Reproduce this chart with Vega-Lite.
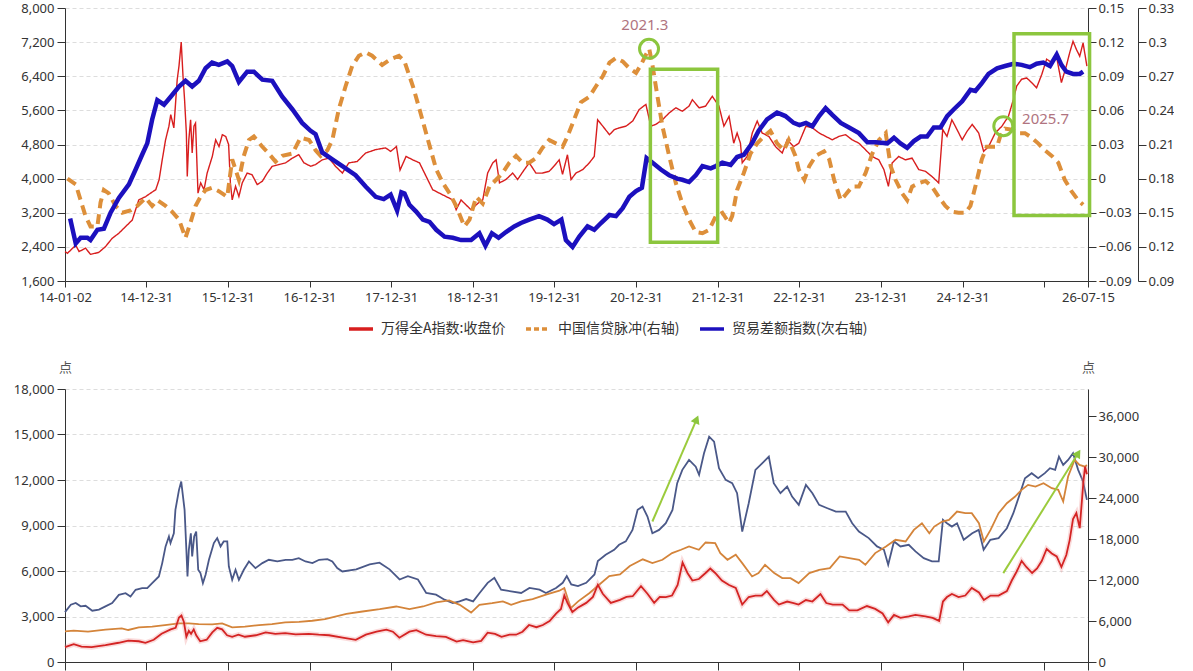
{
  "$schema": "https://vega.github.io/schema/vega-lite/v6.json",
  "background": "white",
  "padding": {"left": 13, "top": 2, "right": 0, "bottom": 0},
  "spacing": 57,
  "config": {
    "view": {"stroke": null},
    "font": "Noto Sans CJK SC",
    "axis": {
      "labelFont": "Noto Sans",
      "labelFontSize": 13,
      "labelColor": "#333333",
      "domainColor": "#333333",
      "tickColor": "#333333",
      "titleFont": "Noto Sans CJK SC",
      "titleFontSize": 13,
      "titleFontWeight": "normal",
      "titleColor": "#555555",
      "gridColor": "#dddddd",
      "gridDash": [4, 3]
    }
  },
  "datasets": {
    "tr": [
      {"d":"2014-01-02","v":2288},{"d":"2014-01-13","v":2250},{"d":"2014-02-19","v":2440},{"d":"2014-03-06","v":2290},{"d":"2014-04-04","v":2370},{"d":"2014-04-26","v":2225},{"d":"2014-06-02","v":2270},{"d":"2014-07-02","v":2405},{"d":"2014-08-01","v":2600},{"d":"2014-08-31","v":2720},{"d":"2014-09-30","v":2875},{"d":"2014-10-30","v":3030},{"d":"2014-11-28","v":3500},{"d":"2014-12-29","v":3580},
      {"d":"2015-01-20","v":3660},{"d":"2015-02-12","v":3740},{"d":"2015-02-27","v":3975},{"d":"2015-03-13","v":4440},{"d":"2015-03-28","v":4910},{"d":"2015-04-12","v":5230},{"d":"2015-04-20","v":5500},{"d":"2015-05-04","v":5190},{"d":"2015-05-19","v":6320},{"d":"2015-05-27","v":6640},{"d":"2015-06-06","v":7200},{"d":"2015-06-14","v":6400},{"d":"2015-06-21","v":5850},{"d":"2015-06-29","v":5070},{"d":"2015-07-03","v":4050},{"d":"2015-07-10","v":4910},{"d":"2015-07-18","v":5380},{"d":"2015-07-25","v":4600},{"d":"2015-08-02","v":5230},{"d":"2015-08-09","v":5300},{"d":"2015-08-20","v":3660},{"d":"2015-09-01","v":3900},{"d":"2015-09-16","v":3740},{"d":"2015-09-30","v":4130},{"d":"2015-10-23","v":4520},{"d":"2015-11-07","v":4910},{"d":"2015-11-22","v":4750},{"d":"2015-12-07","v":5030},{"d":"2015-12-22","v":4990},
      {"d":"2016-01-04","v":4800},{"d":"2016-01-12","v":3900},{"d":"2016-01-20","v":3500},{"d":"2016-02-04","v":3820},{"d":"2016-02-19","v":3580},{"d":"2016-03-05","v":3900},{"d":"2016-03-27","v":4130},{"d":"2016-04-18","v":4090},{"d":"2016-05-11","v":3860},{"d":"2016-06-03","v":3940},{"d":"2016-06-25","v":4130},{"d":"2016-07-17","v":4290},{"d":"2016-08-16","v":4330},{"d":"2016-09-15","v":4370},{"d":"2016-10-15","v":4480},{"d":"2016-11-13","v":4560},{"d":"2016-12-06","v":4370},
      {"d":"2017-01-05","v":4290},{"d":"2017-01-27","v":4330},{"d":"2017-02-26","v":4440},{"d":"2017-03-28","v":4480},{"d":"2017-04-26","v":4290},{"d":"2017-05-27","v":4130},{"d":"2017-06-25","v":4370},{"d":"2017-08-01","v":4400},{"d":"2017-09-08","v":4600},{"d":"2017-10-23","v":4680},{"d":"2017-12-06","v":4720},{"d":"2017-12-29","v":4640},
      {"d":"2018-01-24","v":4750},{"d":"2018-02-09","v":4200},{"d":"2018-03-08","v":4520},{"d":"2018-04-07","v":4440},{"d":"2018-05-07","v":4370},{"d":"2018-06-06","v":4050},{"d":"2018-07-05","v":3740},{"d":"2018-08-04","v":3660},{"d":"2018-09-03","v":3580},{"d":"2018-10-03","v":3500},{"d":"2018-10-18","v":3270},{"d":"2018-11-09","v":3500},{"d":"2018-12-02","v":3380},{"d":"2018-12-24","v":3270},
      {"d":"2019-01-23","v":3420},{"d":"2019-02-14","v":3500},{"d":"2019-03-08","v":4130},{"d":"2019-03-31","v":4370},{"d":"2019-04-15","v":4440},{"d":"2019-04-30","v":3900},{"d":"2019-05-29","v":3980},{"d":"2019-06-28","v":4130},{"d":"2019-07-20","v":3980},{"d":"2019-08-19","v":4210},{"d":"2019-09-10","v":4370},{"d":"2019-10-10","v":4130},{"d":"2019-11-08","v":4130},{"d":"2019-12-08","v":4170},{"d":"2019-12-31","v":4300},
      {"d":"2020-01-22","v":4440},{"d":"2020-02-06","v":4100},{"d":"2020-02-28","v":4560},{"d":"2020-03-15","v":3980},{"d":"2020-04-06","v":4130},{"d":"2020-05-06","v":4210},{"d":"2020-06-05","v":4370},{"d":"2020-06-27","v":4520},{"d":"2020-07-12","v":5380},{"d":"2020-08-04","v":5230},{"d":"2020-09-03","v":5030},{"d":"2020-09-25","v":5150},{"d":"2020-10-17","v":5190},{"d":"2020-11-16","v":5230},{"d":"2020-12-16","v":5350},
      {"d":"2021-01-14","v":5620},{"d":"2021-02-13","v":5740},{"d":"2021-03-07","v":5230},{"d":"2021-03-29","v":5270},{"d":"2021-04-28","v":5380},{"d":"2021-05-28","v":5540},{"d":"2021-06-27","v":5660},{"d":"2021-07-26","v":5580},{"d":"2021-08-25","v":5700},{"d":"2021-09-09","v":5850},{"d":"2021-10-09","v":5660},{"d":"2021-11-07","v":5700},{"d":"2021-12-07","v":5930},
      {"d":"2022-01-06","v":5700},{"d":"2022-01-28","v":5230},{"d":"2022-02-20","v":5460},{"d":"2022-03-13","v":4830},{"d":"2022-03-28","v":5070},{"d":"2022-04-12","v":4830},{"d":"2022-04-20","v":4370},{"d":"2022-05-12","v":4520},{"d":"2022-06-04","v":5070},{"d":"2022-06-26","v":5350},{"d":"2022-07-18","v":5070},{"d":"2022-08-17","v":4990},{"d":"2022-09-16","v":4750},{"d":"2022-10-16","v":4600},{"d":"2022-11-07","v":4910},{"d":"2022-12-06","v":4750},{"d":"2022-12-29","v":4830},
      {"d":"2023-01-30","v":5230},{"d":"2023-02-28","v":5190},{"d":"2023-03-30","v":5070},{"d":"2023-04-28","v":4990},{"d":"2023-05-28","v":4910},{"d":"2023-06-27","v":4990},{"d":"2023-07-26","v":5030},{"d":"2023-08-25","v":4910},{"d":"2023-09-24","v":4830},{"d":"2023-10-23","v":4680},{"d":"2023-11-22","v":4520},{"d":"2023-12-22","v":4440},
      {"d":"2024-01-14","v":4210},{"d":"2024-02-03","v":3820},{"d":"2024-02-20","v":4370},{"d":"2024-03-20","v":4520},{"d":"2024-04-19","v":4440},{"d":"2024-05-19","v":4480},{"d":"2024-06-18","v":4210},{"d":"2024-07-18","v":4170},{"d":"2024-08-16","v":4050},{"d":"2024-09-15","v":3900},{"d":"2024-10-03","v":5150},{"d":"2024-10-22","v":4990},{"d":"2024-11-13","v":5380},{"d":"2024-12-06","v":5150},{"d":"2024-12-29","v":4910},
      {"d":"2025-01-20","v":5110},{"d":"2025-02-12","v":5270},{"d":"2025-03-13","v":5070},{"d":"2025-04-04","v":4640},{"d":"2025-04-26","v":4750},{"d":"2025-05-26","v":5070},{"d":"2025-06-25","v":5230},{"d":"2025-07-24","v":5460},{"d":"2025-08-15","v":5850},{"d":"2025-08-30","v":6170},{"d":"2025-09-21","v":6330},{"d":"2025-10-14","v":6360},{"d":"2025-11-05","v":6250},{"d":"2025-11-27","v":6130},{"d":"2025-12-20","v":6440},
      {"d":"2026-01-11","v":6800},{"d":"2026-02-03","v":6720},{"d":"2026-02-25","v":6840},{"d":"2026-03-18","v":6250},{"d":"2026-04-09","v":6640},{"d":"2026-04-24","v":6950},{"d":"2026-05-09","v":7220},{"d":"2026-05-24","v":7030},{"d":"2026-06-08","v":6870},{"d":"2026-06-23","v":7180},{"d":"2026-07-10","v":6640}
    ],
    "to": [
      {"d":"2014-01-13","v":0.0},{"d":"2014-02-19","v":-0.005},{"d":"2014-03-13","v":-0.019},{"d":"2014-04-04","v":-0.033},{"d":"2014-04-26","v":-0.042},{"d":"2014-05-27","v":-0.042},{"d":"2014-06-10","v":-0.021},{"d":"2014-06-25","v":-0.010},{"d":"2014-07-17","v":-0.013},{"d":"2014-08-16","v":-0.024},{"d":"2014-09-15","v":-0.030},{"d":"2014-10-22","v":-0.028},{"d":"2014-11-21","v":-0.024},{"d":"2014-12-29","v":-0.017},
      {"d":"2015-01-27","v":-0.024},{"d":"2015-02-19","v":-0.019},{"d":"2015-03-28","v":-0.024},{"d":"2015-04-26","v":-0.029},{"d":"2015-05-27","v":-0.036},{"d":"2015-06-25","v":-0.052},{"d":"2015-07-17","v":-0.039},{"d":"2015-08-09","v":-0.024},{"d":"2015-08-31","v":-0.016},{"d":"2015-09-23","v":-0.010},{"d":"2015-10-22","v":-0.008},{"d":"2015-11-21","v":-0.011},{"d":"2015-12-29","v":-0.016},
      {"d":"2016-01-20","v":0.017},{"d":"2016-02-19","v":-0.001},{"d":"2016-03-12","v":0.020},{"d":"2016-04-04","v":0.034},{"d":"2016-04-26","v":0.037},{"d":"2016-06-03","v":0.028},{"d":"2016-07-02","v":0.022},{"d":"2016-08-01","v":0.015},{"d":"2016-08-31","v":0.020},{"d":"2016-10-15","v":0.022},{"d":"2016-11-21","v":0.036},{"d":"2016-12-29","v":0.034},
      {"d":"2017-01-27","v":0.025},{"d":"2017-02-19","v":0.020},{"d":"2017-03-21","v":0.025},{"d":"2017-04-12","v":0.034},{"d":"2017-05-11","v":0.061},{"d":"2017-06-10","v":0.081},{"d":"2017-07-10","v":0.099},{"d":"2017-08-09","v":0.108},{"d":"2017-09-08","v":0.111},{"d":"2017-10-07","v":0.108},{"d":"2017-11-21","v":0.100},{"d":"2017-12-29","v":0.105},
      {"d":"2018-02-04","v":0.108},{"d":"2018-03-01","v":0.103},{"d":"2018-04-08","v":0.081},{"d":"2018-05-07","v":0.061},{"d":"2018-06-14","v":0.034},{"d":"2018-07-21","v":0.008},{"d":"2018-08-20","v":-0.004},{"d":"2018-09-19","v":-0.013},{"d":"2018-10-18","v":-0.024},{"d":"2018-11-24","v":-0.042},{"d":"2018-12-17","v":-0.036},
      {"d":"2019-01-16","v":-0.016},{"d":"2019-02-14","v":-0.022},{"d":"2019-03-16","v":-0.007},{"d":"2019-04-15","v":-0.001},{"d":"2019-05-14","v":0.005},{"d":"2019-06-13","v":0.014},{"d":"2019-07-13","v":0.020},{"d":"2019-08-11","v":0.014},{"d":"2019-09-10","v":0.014},{"d":"2019-10-10","v":0.018},{"d":"2019-11-08","v":0.027},{"d":"2019-12-08","v":0.034},
      {"d":"2020-01-07","v":0.031},{"d":"2020-02-06","v":0.028},{"d":"2020-02-28","v":0.037},{"d":"2020-03-29","v":0.052},{"d":"2020-04-28","v":0.067},{"d":"2020-06-05","v":0.072},{"d":"2020-07-04","v":0.081},{"d":"2020-08-04","v":0.090},{"d":"2020-09-03","v":0.102},{"d":"2020-10-02","v":0.106},{"d":"2020-11-01","v":0.103},{"d":"2020-12-01","v":0.097},{"d":"2020-12-31","v":0.093},
      {"d":"2021-01-22","v":0.100},{"d":"2021-02-13","v":0.109},{"d":"2021-02-28","v":0.114},{"d":"2021-03-15","v":0.099},{"d":"2021-04-06","v":0.072},{"d":"2021-04-28","v":0.046},{"d":"2021-05-28","v":0.020},{"d":"2021-06-27","v":-0.004},{"d":"2021-07-26","v":-0.022},{"d":"2021-08-25","v":-0.036},{"d":"2021-09-24","v":-0.047},{"d":"2021-10-24","v":-0.048},{"d":"2021-11-23","v":-0.045},{"d":"2021-12-23","v":-0.033},
      {"d":"2022-01-21","v":-0.030},{"d":"2022-02-20","v":-0.039},{"d":"2022-03-06","v":-0.033},{"d":"2022-03-28","v":-0.010},{"d":"2022-04-27","v":0.005},{"d":"2022-05-27","v":0.022},{"d":"2022-06-26","v":0.031},{"d":"2022-07-25","v":0.037},{"d":"2022-08-24","v":0.042},{"d":"2022-09-23","v":0.031},{"d":"2022-10-23","v":0.025},{"d":"2022-11-14","v":0.034},{"d":"2022-12-14","v":0.020},{"d":"2022-12-29","v":0.008},
      {"d":"2023-01-23","v":-0.001},{"d":"2023-02-14","v":0.011},{"d":"2023-03-15","v":0.020},{"d":"2023-04-21","v":0.024},{"d":"2023-05-14","v":0.017},{"d":"2023-06-05","v":-0.001},{"d":"2023-07-05","v":-0.019},{"d":"2023-07-27","v":-0.014},{"d":"2023-08-25","v":-0.007},{"d":"2023-09-24","v":-0.007},{"d":"2023-10-24","v":0.005},{"d":"2023-11-23","v":0.022},{"d":"2023-12-23","v":0.034},
      {"d":"2024-01-22","v":0.040},{"d":"2024-02-13","v":0.011},{"d":"2024-03-06","v":-0.001},{"d":"2024-04-05","v":-0.013},{"d":"2024-04-27","v":-0.019},{"d":"2024-05-19","v":-0.007},{"d":"2024-06-18","v":-0.004},{"d":"2024-07-18","v":-0.002},{"d":"2024-08-16","v":-0.007},{"d":"2024-09-15","v":-0.016},{"d":"2024-10-15","v":-0.024},{"d":"2024-11-13","v":-0.029},{"d":"2024-12-13","v":-0.030},
      {"d":"2025-01-13","v":-0.030},{"d":"2025-02-04","v":-0.024},{"d":"2025-02-26","v":-0.007},{"d":"2025-03-27","v":0.017},{"d":"2025-04-18","v":0.028},{"d":"2025-05-11","v":0.028},{"d":"2025-06-03","v":0.028},{"d":"2025-06-17","v":0.037},{"d":"2025-07-09","v":0.044},{"d":"2025-08-08","v":0.043},{"d":"2025-09-07","v":0.040},{"d":"2025-10-06","v":0.040},{"d":"2025-11-05","v":0.036},{"d":"2025-12-04","v":0.031},
      {"d":"2026-01-03","v":0.025},{"d":"2026-02-03","v":0.020},{"d":"2026-03-04","v":0.014},{"d":"2026-04-02","v":-0.001},{"d":"2026-05-02","v":-0.011},{"d":"2026-06-01","v":-0.019},{"d":"2026-06-23","v":-0.023}
    ],
    "tb": [
      {"d":"2014-01-25","v":0.145},{"d":"2014-02-19","v":0.123},{"d":"2014-03-13","v":0.128},{"d":"2014-04-12","v":0.128},{"d":"2014-04-26","v":0.126},{"d":"2014-05-27","v":0.135},{"d":"2014-06-25","v":0.136},{"d":"2014-07-25","v":0.150},{"d":"2014-08-31","v":0.163},{"d":"2014-10-15","v":0.175},{"d":"2014-11-14","v":0.188},{"d":"2014-12-13","v":0.201},
      {"d":"2015-01-05","v":0.211},{"d":"2015-01-27","v":0.232},{"d":"2015-02-19","v":0.249},{"d":"2015-03-21","v":0.245},{"d":"2015-04-20","v":0.252},{"d":"2015-05-27","v":0.261},{"d":"2015-06-25","v":0.266},{"d":"2015-07-25","v":0.261},{"d":"2015-08-24","v":0.266},{"d":"2015-09-23","v":0.277},{"d":"2015-10-22","v":0.282},{"d":"2015-11-21","v":0.280},{"d":"2015-12-29","v":0.283},
      {"d":"2016-01-20","v":0.279},{"d":"2016-02-19","v":0.265},{"d":"2016-03-27","v":0.274},{"d":"2016-04-26","v":0.274},{"d":"2016-06-03","v":0.267},{"d":"2016-07-17","v":0.266},{"d":"2016-08-31","v":0.252},{"d":"2016-10-15","v":0.241},{"d":"2016-11-28","v":0.229},
      {"d":"2017-01-05","v":0.222},{"d":"2017-01-27","v":0.219},{"d":"2017-02-26","v":0.203},{"d":"2017-04-12","v":0.197},{"d":"2017-05-27","v":0.191},{"d":"2017-07-25","v":0.183},{"d":"2017-09-08","v":0.173},{"d":"2017-10-23","v":0.164},{"d":"2017-11-28","v":0.162},{"d":"2017-12-29","v":0.166},
      {"d":"2018-01-27","v":0.152},{"d":"2018-02-15","v":0.168},{"d":"2018-03-01","v":0.167},{"d":"2018-03-23","v":0.157},{"d":"2018-04-22","v":0.151},{"d":"2018-05-22","v":0.144},{"d":"2018-06-21","v":0.142},{"d":"2018-07-21","v":0.135},{"d":"2018-08-27","v":0.129},{"d":"2018-10-03","v":0.128},{"d":"2018-11-09","v":0.126},{"d":"2018-12-24","v":0.126},
      {"d":"2019-01-30","v":0.132},{"d":"2019-02-26","v":0.121},{"d":"2019-03-27","v":0.132},{"d":"2019-04-26","v":0.128},{"d":"2019-05-29","v":0.133},{"d":"2019-07-05","v":0.138},{"d":"2019-08-04","v":0.141},{"d":"2019-09-10","v":0.144},{"d":"2019-10-24","v":0.147},{"d":"2019-11-30","v":0.144},{"d":"2019-12-30","v":0.140},
      {"d":"2020-02-01","v":0.144},{"d":"2020-02-21","v":0.126},{"d":"2020-03-22","v":0.120},{"d":"2020-04-21","v":0.129},{"d":"2020-05-28","v":0.138},{"d":"2020-06-27","v":0.135},{"d":"2020-07-27","v":0.141},{"d":"2020-09-03","v":0.148},{"d":"2020-10-02","v":0.147},{"d":"2020-11-01","v":0.154},{"d":"2020-12-01","v":0.164},{"d":"2020-12-31","v":0.169},
      {"d":"2021-01-26","v":0.172},{"d":"2021-02-16","v":0.198},{"d":"2021-03-15","v":0.194},{"d":"2021-04-21","v":0.188},{"d":"2021-05-28","v":0.183},{"d":"2021-07-03","v":0.180},{"d":"2021-07-26","v":0.179},{"d":"2021-08-25","v":0.177},{"d":"2021-09-24","v":0.183},{"d":"2021-10-24","v":0.191},{"d":"2021-11-30","v":0.189},{"d":"2021-12-23","v":0.191},
      {"d":"2022-01-21","v":0.194},{"d":"2022-02-27","v":0.192},{"d":"2022-03-28","v":0.199},{"d":"2022-04-27","v":0.201},{"d":"2022-06-03","v":0.211},{"d":"2022-07-02","v":0.222},{"d":"2022-08-09","v":0.232},{"d":"2022-09-23","v":0.238},{"d":"2022-10-30","v":0.235},{"d":"2022-12-06","v":0.229},
      {"d":"2023-01-01","v":0.227},{"d":"2023-01-30","v":0.229},{"d":"2023-02-28","v":0.226},{"d":"2023-03-30","v":0.235},{"d":"2023-04-28","v":0.242},{"d":"2023-05-28","v":0.236},{"d":"2023-07-05","v":0.229},{"d":"2023-08-11","v":0.225},{"d":"2023-09-24","v":0.220},{"d":"2023-11-01","v":0.212},{"d":"2023-12-08","v":0.212},
      {"d":"2024-01-29","v":0.211},{"d":"2024-02-28","v":0.216},{"d":"2024-03-28","v":0.211},{"d":"2024-04-27","v":0.207},{"d":"2024-05-27","v":0.213},{"d":"2024-06-26","v":0.217},{"d":"2024-07-25","v":0.217},{"d":"2024-08-24","v":0.225},{"d":"2024-09-23","v":0.225},{"d":"2024-10-23","v":0.235},{"d":"2024-11-22","v":0.241},{"d":"2024-12-29","v":0.248},
      {"d":"2025-02-04","v":0.258},{"d":"2025-02-26","v":0.257},{"d":"2025-03-27","v":0.264},{"d":"2025-04-26","v":0.272},{"d":"2025-06-03","v":0.277},{"d":"2025-07-09","v":0.279},{"d":"2025-08-15","v":0.281},{"d":"2025-09-21","v":0.280},{"d":"2025-10-28","v":0.278},{"d":"2025-11-27","v":0.281},{"d":"2025-12-27","v":0.282},
      {"d":"2026-01-26","v":0.279},{"d":"2026-02-25","v":0.289},{"d":"2026-03-18","v":0.280},{"d":"2026-04-09","v":0.274},{"d":"2026-05-09","v":0.272},{"d":"2026-06-08","v":0.272},{"d":"2026-06-23","v":0.274}
    ],
    "boxes": [
      {"x1":"2021-03-05","x2":"2021-12-31","y1":2424,"y2":6541},
      {"x1":"2025-08-18","x2":"2026-07-22","y1":3059,"y2":7388}
    ],
    "rings": [
      {"d":"2021-02-27","v":7028},
      {"d":"2025-07-01","v":5187}
    ],
    "notes": [
      {"d":"2021-02-08","v":7593,"t":"2021.3"},
      {"d":"2026-01-06","v":5367,"t":"2025.7"}
    ],
    "bb": [
      {"d":"2014-01-02","v":3290},{"d":"2014-01-28","v":3780},{"d":"2014-02-19","v":3890},{"d":"2014-03-13","v":3670},{"d":"2014-04-04","v":3710},{"d":"2014-05-04","v":3380},{"d":"2014-06-03","v":3450},{"d":"2014-07-02","v":3670},{"d":"2014-08-01","v":3890},{"d":"2014-08-31","v":4430},{"d":"2014-09-30","v":4540},{"d":"2014-10-22","v":4320},{"d":"2014-11-14","v":4760},{"d":"2014-12-13","v":4870},
      {"d":"2015-01-05","v":4870},{"d":"2015-01-27","v":5200},{"d":"2015-02-26","v":5640},{"d":"2015-03-13","v":6520},{"d":"2015-03-28","v":7620},{"d":"2015-04-12","v":8280},{"d":"2015-04-19","v":7840},{"d":"2015-05-04","v":8490},{"d":"2015-05-11","v":10030},{"d":"2015-05-27","v":11350},{"d":"2015-06-06","v":11900},{"d":"2015-06-14","v":10910},{"d":"2015-06-21","v":10030},{"d":"2015-06-29","v":7400},{"d":"2015-07-04","v":5640},{"d":"2015-07-10","v":7400},{"d":"2015-07-19","v":8490},{"d":"2015-07-25","v":6960},{"d":"2015-08-03","v":8280},{"d":"2015-08-12","v":8600},{"d":"2015-08-21","v":6080},{"d":"2015-08-31","v":5860},{"d":"2015-09-11","v":5200},{"d":"2015-09-23","v":5750},{"d":"2015-10-08","v":6740},{"d":"2015-10-30","v":7840},{"d":"2015-11-14","v":8170},{"d":"2015-11-29","v":7620},{"d":"2015-12-13","v":7950},{"d":"2015-12-29","v":7950},
      {"d":"2016-01-05","v":6300},{"d":"2016-01-20","v":5420},{"d":"2016-02-04","v":6080},{"d":"2016-02-19","v":5420},{"d":"2016-03-12","v":6080},{"d":"2016-04-04","v":6630},{"d":"2016-05-03","v":6190},{"d":"2016-06-03","v":6520},{"d":"2016-07-02","v":6740},{"d":"2016-08-09","v":6630},{"d":"2016-09-15","v":6740},{"d":"2016-10-15","v":6740},{"d":"2016-11-13","v":6850},{"d":"2016-12-13","v":6630},
      {"d":"2017-01-13","v":6520},{"d":"2017-02-12","v":6740},{"d":"2017-03-21","v":6780},{"d":"2017-04-12","v":6630},{"d":"2017-05-04","v":6190},{"d":"2017-05-27","v":5970},{"d":"2017-07-28","v":6110},{"d":"2017-09-26","v":6440},{"d":"2017-11-09","v":6550},{"d":"2017-12-24","v":6110},
      {"d":"2018-02-07","v":5440},{"d":"2018-03-16","v":5660},{"d":"2018-04-30","v":5440},{"d":"2018-06-06","v":4550},{"d":"2018-07-20","v":4440},{"d":"2018-08-27","v":4110},{"d":"2018-10-03","v":3885},{"d":"2018-11-02","v":4000},{"d":"2018-12-02","v":4150},
      {"d":"2019-01-02","v":4000},{"d":"2019-01-31","v":4550},{"d":"2019-03-08","v":5220},{"d":"2019-04-07","v":5550},{"d":"2019-05-07","v":4770},{"d":"2019-06-21","v":4660},{"d":"2019-08-05","v":4550},{"d":"2019-09-11","v":4880},{"d":"2019-10-26","v":4770},{"d":"2019-11-24","v":4550},
      {"d":"2020-01-08","v":4880},{"d":"2020-02-07","v":5220},{"d":"2020-02-25","v":5660},{"d":"2020-03-16","v":5110},{"d":"2020-04-15","v":5000},{"d":"2020-05-22","v":5220},{"d":"2020-06-28","v":5770},{"d":"2020-07-13","v":6660},{"d":"2020-08-17","v":7070},{"d":"2020-09-24","v":7400},{"d":"2020-10-16","v":7730},{"d":"2020-11-15","v":7950},{"d":"2020-12-15","v":8710},
      {"d":"2021-01-07","v":10030},{"d":"2021-01-29","v":10250},{"d":"2021-02-20","v":9590},{"d":"2021-03-14","v":8490},{"d":"2021-04-13","v":8710},{"d":"2021-05-13","v":9150},{"d":"2021-06-12","v":10030},{"d":"2021-07-03","v":11790},{"d":"2021-07-26","v":12670},{"d":"2021-08-25","v":13320},{"d":"2021-09-24","v":12880},{"d":"2021-10-09","v":12340},{"d":"2021-10-31","v":13760},{"d":"2021-11-23","v":14860},{"d":"2021-12-15","v":14530},
      {"d":"2022-01-06","v":12780},{"d":"2022-02-05","v":12010},{"d":"2022-03-06","v":11790},{"d":"2022-03-28","v":11130},{"d":"2022-04-20","v":8600},{"d":"2022-05-19","v":10470},{"d":"2022-06-18","v":12670},{"d":"2022-07-18","v":13100},{"d":"2022-08-17","v":13540},{"d":"2022-09-08","v":11790},{"d":"2022-10-08","v":11130},{"d":"2022-11-07","v":11570},{"d":"2022-11-29","v":10910},{"d":"2022-12-29","v":10360},
      {"d":"2023-01-30","v":11680},{"d":"2023-02-28","v":11130},{"d":"2023-03-30","v":10360},{"d":"2023-05-06","v":10140},{"d":"2023-06-13","v":9920},{"d":"2023-07-27","v":9920},{"d":"2023-08-25","v":9150},{"d":"2023-09-24","v":8600},{"d":"2023-11-07","v":8170},{"d":"2023-12-14","v":7620},
      {"d":"2024-01-14","v":7400},{"d":"2024-02-02","v":6410},{"d":"2024-02-28","v":7950},{"d":"2024-03-28","v":7620},{"d":"2024-05-04","v":7730},{"d":"2024-06-03","v":7290},{"d":"2024-07-10","v":6850},{"d":"2024-08-16","v":6630},{"d":"2024-09-15","v":6630},{"d":"2024-10-04","v":9370},{"d":"2024-10-22","v":9150},{"d":"2024-11-13","v":8930},{"d":"2024-12-06","v":9150},
      {"d":"2025-01-05","v":8060},{"d":"2025-02-12","v":8490},{"d":"2025-03-13","v":8710},{"d":"2025-04-04","v":7400},{"d":"2025-05-04","v":8060},{"d":"2025-06-10","v":8170},{"d":"2025-07-17","v":8820},{"d":"2025-08-15","v":9810},{"d":"2025-09-14","v":11130},{"d":"2025-10-06","v":12120},{"d":"2025-11-05","v":12450},{"d":"2025-12-04","v":12120},
      {"d":"2026-01-03","v":12450},{"d":"2026-01-26","v":12780},{"d":"2026-02-18","v":12670},{"d":"2026-03-07","v":13540},{"d":"2026-03-26","v":12990},{"d":"2026-04-17","v":13320},{"d":"2026-05-09","v":13760},{"d":"2026-06-01","v":12670},{"d":"2026-06-23","v":11900},{"d":"2026-07-10","v":10690}
    ],
    "bo": [
      {"d":"2014-01-02","v":2020},{"d":"2014-02-10","v":2065},{"d":"2014-04-15","v":2000},{"d":"2014-07-02","v":2130},{"d":"2014-09-13","v":2220},{"d":"2014-10-12","v":2110},{"d":"2014-11-28","v":2280},
      {"d":"2015-01-27","v":2330},{"d":"2015-03-25","v":2435},{"d":"2015-05-27","v":2545},{"d":"2015-07-10","v":2545},{"d":"2015-08-23","v":2500},{"d":"2015-10-23","v":2480},{"d":"2015-12-06","v":2545},
      {"d":"2016-01-20","v":2280},{"d":"2016-03-17","v":2330},{"d":"2016-05-19","v":2435},{"d":"2016-07-16","v":2500},{"d":"2016-09-13","v":2610},{"d":"2016-11-14","v":2650},
      {"d":"2017-01-12","v":2720},{"d":"2017-03-10","v":2825},{"d":"2017-06-14","v":3170},{"d":"2017-08-25","v":3330},{"d":"2017-11-10","v":3485},
      {"d":"2018-01-23","v":3660},{"d":"2018-03-23","v":3485},{"d":"2018-05-23","v":3660},{"d":"2018-07-20","v":3930},{"d":"2018-09-17","v":4060},{"d":"2018-11-03","v":3770},{"d":"2018-12-24","v":3260},
      {"d":"2019-01-30","v":3770},{"d":"2019-03-28","v":3885},{"d":"2019-05-15","v":4000},{"d":"2019-06-21","v":3770},{"d":"2019-08-05","v":4000},{"d":"2019-09-25","v":4150},{"d":"2019-11-24","v":4440},
      {"d":"2020-01-23","v":4700},{"d":"2020-02-14","v":4880},{"d":"2020-03-14","v":3550},{"d":"2020-04-16","v":4000},{"d":"2020-06-06","v":4550},{"d":"2020-07-20","v":5110},{"d":"2020-09-02","v":5660},{"d":"2020-10-20","v":5770},{"d":"2020-12-03","v":6330},
      {"d":"2021-01-30","v":6770},{"d":"2021-03-14","v":6520},{"d":"2021-04-28","v":6740},{"d":"2021-06-10","v":7180},{"d":"2021-07-20","v":7400},{"d":"2021-08-25","v":7620},{"d":"2021-10-08","v":7400},{"d":"2021-11-07","v":7880},{"d":"2021-12-20","v":7840},
      {"d":"2022-01-12","v":7180},{"d":"2022-02-13","v":6740},{"d":"2022-03-22","v":7070},{"d":"2022-04-20","v":6520},{"d":"2022-06-03","v":5640},{"d":"2022-07-02","v":5860},{"d":"2022-07-31","v":6410},{"d":"2022-09-10","v":5860},{"d":"2022-10-16","v":5530},{"d":"2022-11-22","v":5530},{"d":"2022-12-28","v":5200},
      {"d":"2023-02-14","v":5860},{"d":"2023-03-30","v":6080},{"d":"2023-05-17","v":6190},{"d":"2023-06-30","v":6960},{"d":"2023-08-12","v":6850},{"d":"2023-09-25","v":6740},{"d":"2023-10-23","v":6410},{"d":"2023-12-06","v":7180},
      {"d":"2024-01-23","v":7620},{"d":"2024-03-06","v":8060},{"d":"2024-04-20","v":7950},{"d":"2024-05-27","v":8710},{"d":"2024-07-02","v":9150},{"d":"2024-08-04","v":8490},{"d":"2024-08-26","v":8930},{"d":"2024-10-01","v":9260},{"d":"2024-10-31","v":9370},{"d":"2024-12-06","v":9920},
      {"d":"2025-01-12","v":9810},{"d":"2025-02-10","v":9810},{"d":"2025-03-14","v":9150},{"d":"2025-04-05","v":7950},{"d":"2025-05-05","v":8710},{"d":"2025-06-10","v":9810},{"d":"2025-07-17","v":10470},{"d":"2025-08-23","v":10910},{"d":"2025-09-21","v":11350},{"d":"2025-10-20","v":11680},{"d":"2025-11-22","v":11570},{"d":"2025-12-28","v":11790},
      {"d":"2026-02-03","v":11460},{"d":"2026-03-04","v":11350},{"d":"2026-03-26","v":10580},{"d":"2026-04-17","v":12230},{"d":"2026-05-16","v":13320},{"d":"2026-06-07","v":12990},{"d":"2026-07-02","v":12880},{"d":"2026-07-10","v":12990}
    ],
    "br": [
      {"d":"2014-01-02","v":2180},{"d":"2014-02-10","v":2600},{"d":"2014-03-17","v":2260},{"d":"2014-05-01","v":2180},{"d":"2014-07-02","v":2480},{"d":"2014-08-30","v":2820},{"d":"2014-10-12","v":3130},{"d":"2014-11-28","v":3040},{"d":"2014-12-28","v":2820},
      {"d":"2015-02-03","v":3260},{"d":"2015-03-10","v":4130},{"d":"2015-04-20","v":4780},{"d":"2015-05-12","v":5000},{"d":"2015-05-27","v":6520},{"d":"2015-06-07","v":6820},{"d":"2015-06-18","v":5860},{"d":"2015-06-29","v":3700},{"d":"2015-07-10","v":4560},{"d":"2015-07-20","v":4130},{"d":"2015-08-01","v":4780},{"d":"2015-08-12","v":3920},{"d":"2015-08-30","v":3040},{"d":"2015-09-28","v":3260},{"d":"2015-10-23","v":4340},{"d":"2015-11-14","v":5000},{"d":"2015-12-06","v":4780},{"d":"2015-12-28","v":3920},
      {"d":"2016-01-20","v":3700},{"d":"2016-02-17","v":4000},{"d":"2016-03-17","v":3700},{"d":"2016-05-05","v":3920},{"d":"2016-06-18","v":4340},{"d":"2016-07-31","v":4130},{"d":"2016-09-13","v":4220},{"d":"2016-10-30","v":4040},{"d":"2016-12-28","v":4130},
      {"d":"2017-02-10","v":4000},{"d":"2017-03-28","v":3920},{"d":"2017-05-28","v":3560},{"d":"2017-07-26","v":3240},{"d":"2017-09-09","v":4000},{"d":"2017-10-27","v":4440},{"d":"2017-12-10","v":4750},
      {"d":"2018-01-08","v":4440},{"d":"2018-02-06","v":3560},{"d":"2018-03-23","v":4440},{"d":"2018-04-23","v":4660},{"d":"2018-06-06","v":4000},{"d":"2018-07-20","v":3780},{"d":"2018-09-02","v":3680},{"d":"2018-10-20","v":2980},{"d":"2018-11-18","v":3200},
      {"d":"2019-01-02","v":2880},{"d":"2019-02-07","v":3100},{"d":"2019-03-08","v":4300},{"d":"2019-04-10","v":4130},{"d":"2019-05-09","v":3680},{"d":"2019-06-14","v":4000},{"d":"2019-07-13","v":4000},{"d":"2019-08-11","v":4440},{"d":"2019-09-09","v":5420},{"d":"2019-10-12","v":5100},{"d":"2019-11-10","v":5420},{"d":"2019-12-10","v":6000},
      {"d":"2020-01-08","v":7100},{"d":"2020-01-30","v":7770},{"d":"2020-02-14","v":9760},{"d":"2020-02-28","v":8660},{"d":"2020-03-21","v":7320},{"d":"2020-04-16","v":8000},{"d":"2020-05-22","v":8660},{"d":"2020-06-21","v":9540},{"d":"2020-07-13","v":11320},{"d":"2020-08-04","v":10000},{"d":"2020-09-09","v":8660},{"d":"2020-10-20","v":9100},{"d":"2020-11-18","v":9540},{"d":"2020-12-16","v":9640},
      {"d":"2021-01-22","v":11100},{"d":"2021-02-20","v":10000},{"d":"2021-03-22","v":8660},{"d":"2021-04-16","v":9540},{"d":"2021-05-13","v":9520},{"d":"2021-06-10","v":9740},{"d":"2021-07-05","v":11280},{"d":"2021-07-27","v":14580},{"d":"2021-08-18","v":13040},{"d":"2021-09-09","v":11940},{"d":"2021-10-08","v":12160},{"d":"2021-11-07","v":13040},{"d":"2021-11-28","v":13700},{"d":"2021-12-20","v":13040},
      {"d":"2022-01-19","v":11940},{"d":"2022-02-20","v":11280},{"d":"2022-03-22","v":10840},{"d":"2022-04-20","v":8420},{"d":"2022-05-19","v":9520},{"d":"2022-06-18","v":9740},{"d":"2022-07-17","v":9740},{"d":"2022-08-08","v":10400},{"d":"2022-09-10","v":9080},{"d":"2022-10-01","v":8420},{"d":"2022-11-07","v":8860},{"d":"2022-12-06","v":8640},{"d":"2022-12-28","v":8420},
      {"d":"2023-01-30","v":9080},{"d":"2023-02-28","v":8860},{"d":"2023-04-05","v":9960},{"d":"2023-05-01","v":8640},{"d":"2023-05-30","v":8420},{"d":"2023-07-13","v":8420},{"d":"2023-08-12","v":7560},{"d":"2023-09-17","v":7560},{"d":"2023-10-30","v":8200},{"d":"2023-12-06","v":7780},
      {"d":"2024-01-08","v":7120},{"d":"2024-02-02","v":5800},{"d":"2024-02-28","v":6900},{"d":"2024-03-28","v":6460},{"d":"2024-05-04","v":6680},{"d":"2024-06-03","v":6900},{"d":"2024-07-17","v":6680},{"d":"2024-08-19","v":6460},{"d":"2024-09-17","v":6020},{"d":"2024-10-04","v":8860},{"d":"2024-10-22","v":9520},{"d":"2024-11-13","v":9960},{"d":"2024-12-13","v":9520},
      {"d":"2025-01-12","v":9740},{"d":"2025-02-10","v":10840},{"d":"2025-03-14","v":10180},{"d":"2025-04-05","v":9080},{"d":"2025-05-05","v":9740},{"d":"2025-06-10","v":9740},{"d":"2025-07-17","v":10400},{"d":"2025-08-08","v":11940},{"d":"2025-08-30","v":13260},{"d":"2025-09-21","v":14800},{"d":"2025-10-12","v":13920},{"d":"2025-11-07","v":13040},{"d":"2025-11-29","v":13700},{"d":"2025-12-20","v":14800},
      {"d":"2026-01-11","v":16560},{"d":"2026-02-03","v":15900},{"d":"2026-02-25","v":15460},{"d":"2026-03-18","v":13920},{"d":"2026-04-09","v":15680},{"d":"2026-04-24","v":17860},{"d":"2026-05-09","v":20940},{"d":"2026-05-24","v":21820},{"d":"2026-06-08","v":19620},{"d":"2026-06-25","v":26640},{"d":"2026-07-02","v":28620},{"d":"2026-07-10","v":27520}
    ],
    "arrows": [
      {"x1":"2021-03-14","y1":9263,"x2":"2021-09-28","y2":16000},
      {"x1":"2025-07-01","y1":5860,"x2":"2026-06-01","y2":13760}
    ]
  },
  "vconcat": [
    {
      "width": 1023,
      "height": 273,
      "layer": [
        {
          "data": {"name": "tr"},
          "mark": {"type": "line", "strokeWidth": 1.4},
          "encoding": {
            "x": {
              "field": "d", "type": "temporal", "title": null,
              "scale": {"type": "utc", "domain": [{"year": 2014, "month": 1, "date": 2, "utc": true}, {"year": 2026, "month": 7, "date": 15, "utc": true}]},
              "axis": {
                "values": [
                  {"year": 2014, "month": 1, "date": 2, "utc": true},
                  {"year": 2014, "month": 12, "date": 31, "utc": true},
                  {"year": 2015, "month": 12, "date": 31, "utc": true},
                  {"year": 2016, "month": 12, "date": 31, "utc": true},
                  {"year": 2017, "month": 12, "date": 31, "utc": true},
                  {"year": 2018, "month": 12, "date": 31, "utc": true},
                  {"year": 2019, "month": 12, "date": 31, "utc": true},
                  {"year": 2020, "month": 12, "date": 31, "utc": true},
                  {"year": 2021, "month": 12, "date": 31, "utc": true},
                  {"year": 2022, "month": 12, "date": 31, "utc": true},
                  {"year": 2023, "month": 12, "date": 31, "utc": true},
                  {"year": 2024, "month": 12, "date": 31, "utc": true},
                  {"year": 2025, "month": 12, "date": 31, "utc": true},
                  {"year": 2026, "month": 7, "date": 15, "utc": true}
                ],
                "labelExpr": "utcyear(datum.value) == 2025 ? '' : utcFormat(datum.value, '%y-%m-%d')",
                "labelOverlap": false,
                "labelFlush": false,
                "grid": false,
                "tickSize": 6,
                "labelPadding": 4
              }
            },
            "y": {
              "field": "v", "type": "quantitative", "title": null,
              "scale": {"domain": [1600, 8000]},
              "axis": {"orient": "left", "values": [1600, 2400, 3200, 4000, 4800, 5600, 6400, 7200, 8000], "format": ",.0f", "grid": true, "tickSize": 8, "labelPadding": 3}
            },
            "color": {
              "datum": "万得全A指数:收盘价", "type": "nominal",
              "scale": {"domain": ["万得全A指数:收盘价", "中国信贷脉冲(右轴)", "贸易差额指数(次右轴)"], "range": ["#D81E1E", "#DD8F3A", "#1C10BE"]},
              "legend": {"orient": "none", "legendX": 282, "legendY": 307, "direction": "horizontal", "title": null, "symbolType": "stroke", "symbolSize": 576, "symbolStrokeWidth": 3.5, "labelFont": "Noto Sans CJK SC", "labelFontSize": 14, "labelColor": "#333333", "labelOffset": 6, "columnPadding": 13, "padding": 0}
            },
            "strokeDash": {
              "datum": "万得全A指数:收盘价", "type": "nominal",
              "scale": {"domain": ["万得全A指数:收盘价", "中国信贷脉冲(右轴)", "贸易差额指数(次右轴)"], "range": [[1, 0], [5, 3], [1, 0]]},
              "legend": {"orient": "none", "legendX": 282, "legendY": 307, "direction": "horizontal", "title": null, "symbolType": "stroke", "symbolSize": 576, "symbolStrokeWidth": 3.5, "labelFont": "Noto Sans CJK SC", "labelFontSize": 14, "labelColor": "#333333", "labelOffset": 6, "columnPadding": 13, "padding": 0}
            }
          }
        },
        {
          "data": {"name": "to"},
          "mark": {"type": "line", "strokeWidth": 4, "strokeDash": [10, 6]},
          "encoding": {
            "x": {"field": "d", "type": "temporal", "title": null},
            "y": {
              "field": "v", "type": "quantitative", "title": null,
              "scale": {"domain": [-0.09, 0.15]},
              "axis": {"orient": "right", "values": [-0.09, -0.06, -0.03, 0, 0.03, 0.06, 0.09, 0.12, 0.15], "format": ".2~f", "grid": false, "tickSize": 8, "labelPadding": 2}
            },
            "color": {"datum": "中国信贷脉冲(右轴)", "type": "nominal"}
          }
        },
        {
          "data": {"name": "tb"},
          "mark": {"type": "line", "strokeWidth": 4.5},
          "encoding": {
            "x": {"field": "d", "type": "temporal", "title": null},
            "y": {
              "field": "v", "type": "quantitative", "title": null,
              "scale": {"domain": [0.09, 0.33]},
              "axis": {"orient": "right", "offset": 50, "values": [0.09, 0.12, 0.15, 0.18, 0.21, 0.24, 0.27, 0.3, 0.33], "format": ".2~f", "grid": false, "tickSize": 8, "labelPadding": 2}
            },
            "color": {"datum": "贸易差额指数(次右轴)", "type": "nominal"}
          }
        },
        {
          "layer": [
            {
              "data": {"name": "boxes"},
              "mark": {"type": "rect", "fill": "transparent", "stroke": "#8CC63E", "strokeWidth": 3.5},
              "encoding": {
                "x": {"field": "x1", "type": "temporal", "title": null},
                "x2": {"field": "x2"},
                "y": {"field": "y1", "type": "quantitative", "title": null, "scale": {"domain": [1600, 8000]}, "axis": null},
                "y2": {"field": "y2"}
              }
            },
            {
              "data": {"name": "rings"},
              "mark": {"type": "point", "shape": "circle", "filled": false, "stroke": "#8CC63E", "strokeWidth": 3, "size": 360, "opacity": 1},
              "encoding": {
                "x": {"field": "d", "type": "temporal", "title": null},
                "y": {"field": "v", "type": "quantitative", "title": null, "axis": null}
              }
            },
            {
              "data": {"name": "notes"},
              "mark": {"type": "text", "fontSize": 15, "font": "Noto Sans", "color": "#B07480"},
              "encoding": {
                "x": {"field": "d", "type": "temporal", "title": null},
                "y": {"field": "v", "type": "quantitative", "title": null, "axis": null},
                "text": {"field": "t"}
              }
            }
          ]
        }
      ],
      "resolve": {"scale": {"y": "independent"}}
    },
    {
      "width": 1023,
      "height": 273,
      "layer": [
        {
          "layer": [
            {
              "data": {"name": "bb"},
              "mark": {"type": "line", "color": "#4A5888", "strokeWidth": 1.8},
              "encoding": {
                "x": {
                  "field": "d", "type": "temporal", "title": null,
                  "scale": {"type": "utc", "domain": [{"year": 2014, "month": 1, "date": 2, "utc": true}, {"year": 2026, "month": 7, "date": 15, "utc": true}]},
                  "axis": {
                    "values": [
                      {"year": 2014, "month": 1, "date": 2, "utc": true},
                      {"year": 2014, "month": 12, "date": 31, "utc": true},
                      {"year": 2015, "month": 12, "date": 31, "utc": true},
                      {"year": 2016, "month": 12, "date": 31, "utc": true},
                      {"year": 2017, "month": 12, "date": 31, "utc": true},
                      {"year": 2018, "month": 12, "date": 31, "utc": true},
                      {"year": 2019, "month": 12, "date": 31, "utc": true},
                      {"year": 2020, "month": 12, "date": 31, "utc": true},
                      {"year": 2021, "month": 12, "date": 31, "utc": true},
                      {"year": 2022, "month": 12, "date": 31, "utc": true},
                      {"year": 2023, "month": 12, "date": 31, "utc": true},
                      {"year": 2024, "month": 12, "date": 31, "utc": true},
                      {"year": 2025, "month": 12, "date": 31, "utc": true},
                      {"year": 2026, "month": 7, "date": 15, "utc": true}
                    ],
                    "labels": false,
                    "grid": false,
                    "tickSize": 8
                  }
                },
                "y": {
                  "field": "v", "type": "quantitative", "title": "点",
                  "scale": {"domain": [0, 18000]},
                  "axis": {"orient": "left", "values": [0, 3000, 6000, 9000, 12000, 15000, 18000], "format": ",.0f", "grid": true, "tickSize": 8, "labelPadding": 3, "titleAngle": 0, "titleX": 0, "titleY": -22, "titleAlign": "center", "titleBaseline": "middle"}
                }
              }
            },
            {
              "data": {"name": "bo"},
              "mark": {"type": "line", "color": "#D4843A", "strokeWidth": 1.8},
              "encoding": {
                "x": {"field": "d", "type": "temporal", "title": null},
                "y": {"field": "v", "type": "quantitative", "title": "点"}
              }
            }
          ]
        },
        {
          "layer": [
            {
              "data": {"name": "br"},
              "mark": {"type": "line", "color": "#F08A8A", "strokeWidth": 5, "opacity": 0.3},
              "encoding": {
                "x": {"field": "d", "type": "temporal", "title": null},
                "y": {
                  "field": "v", "type": "quantitative", "title": "点",
                  "scale": {"domain": [0, 36000]},
                  "axis": {"orient": "right", "values": [0, 6000, 12000, 18000, 24000, 30000, 36000], "format": ",.0f", "grid": false, "tickSize": 8, "labelPadding": 2, "titleAngle": 0, "titleX": 0, "titleY": -22, "titleAlign": "center", "titleBaseline": "middle"}
                }
              }
            },
            {
              "data": {"name": "br"},
              "mark": {"type": "line", "color": "#D42424", "strokeWidth": 1.8},
              "encoding": {
                "x": {"field": "d", "type": "temporal", "title": null},
                "y": {"field": "v", "type": "quantitative", "title": "点"}
              }
            }
          ]
        },
        {
          "layer": [
            {
              "data": {"name": "arrows"},
              "mark": {"type": "rule", "color": "#9BCB3C", "strokeWidth": 2},
              "encoding": {
                "x": {"field": "x1", "type": "temporal", "title": null},
                "x2": {"field": "x2"},
                "y": {"field": "y1", "type": "quantitative", "title": null, "scale": {"domain": [0, 18000]}, "axis": null},
                "y2": {"field": "y2"}
              }
            },
            {
              "data": {"values": [{"d": "2021-09-28", "v": 16000}]},
              "mark": {"type": "point", "shape": "triangle-up", "angle": 23, "filled": true, "color": "#8CC63E", "size": 90, "opacity": 1},
              "encoding": {
                "x": {"field": "d", "type": "temporal", "title": null},
                "y": {"field": "v", "type": "quantitative", "title": null, "axis": null}
              }
            },
            {
              "data": {"values": [{"d": "2026-06-01", "v": 13760}]},
              "mark": {"type": "point", "shape": "triangle-up", "angle": 32, "filled": true, "color": "#8CC63E", "size": 90, "opacity": 1},
              "encoding": {
                "x": {"field": "d", "type": "temporal", "title": null},
                "y": {"field": "v", "type": "quantitative", "title": null, "axis": null}
              }
            }
          ]
        }
      ],
      "resolve": {"scale": {"y": "independent"}}
    }
  ]
}
